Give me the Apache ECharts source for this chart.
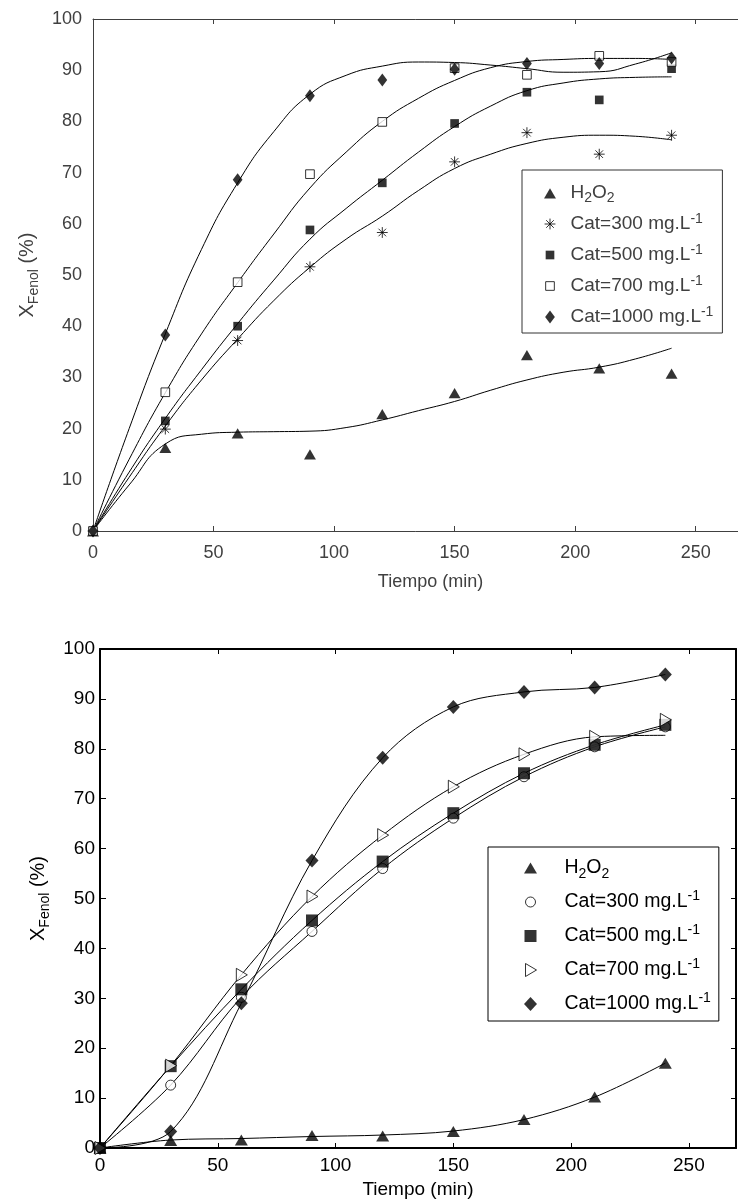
<!DOCTYPE html>
<html><head><meta charset="utf-8">
<script src="https://cdn.jsdelivr.net/npm/echarts@6/dist/echarts.min.js"></script>
<style>html,body{margin:0;padding:0;background:#fff}#c{width:738px;height:1200px}</style>
</head><body><div id="c"></div>
<script>
// ---------- data ----------
const time = [0, 30, 60, 90, 120, 150, 180, 210, 240];
const fitTime = [0, 15, 30, 45, 60, 75, 90, 105, 120, 135, 150, 165, 180, 195, 210, 225, 240];
const xTicks = [0, 50, 100, 150, 200, 250];
const yTicks = [0, 10, 20, 30, 40, 50, 60, 70, 80, 90, 100];
const seriesKeys = ['H2O2', 'Cat300', 'Cat500', 'Cat700', 'Cat1000'];
const legendText = ['H{s|2}O{s|2}', 'Cat=300 mg.L{u|-1}', 'Cat=500 mg.L{u|-1}', 'Cat=700 mg.L{u|-1}', 'Cat=1000 mg.L{u|-1}'];
const xTitle = 'Tiempo (min)';
const yTitle = '{x|X}{s|Fenol}{x| (%)}';

// top chart: measured points
const topH2O2 = [0, 16.3, 19.1, 15.0, 22.9, 27.0, 34.4, 31.8, 30.8];
const top300 = [0, 19.9, 37.2, 51.6, 58.3, 72.1, 77.8, 73.6, 77.3];
const top500 = [0, 21.5, 40.0, 58.8, 68.0, 79.6, 85.7, 84.2, 90.3];
const top700 = [0, 27.1, 48.6, 69.7, 79.9, 90.4, 89.1, 92.8, 91.6];
const top1000 = [0, 38.3, 68.6, 85.0, 88.1, 90.2, 91.3, 91.3, 92.4];
// top chart: fitted curves (read at fitTime)
const topFitH2O2 = [0, 9, 17, 18.9, 19.3, 19.4, 19.5, 20.2, 21.7, 23.5, 25.3, 27.5, 29.5, 31, 32.0, 33.6, 35.7];
const topFit300 = [0, 10.5, 20.5, 29.5, 37.5, 45, 51.5, 57, 61.5, 66.5, 70.8, 73.6, 75.7, 76.9, 77.3, 77.1, 76.4];
const topFit500 = [0, 11.5, 22, 31.5, 40.5, 49, 57, 63, 68.5, 74, 79, 83, 86, 87.5, 88.3, 88.6, 88.7];
const topFit700 = [0, 14, 27, 38.5, 48.5, 58, 67, 74, 80, 84.5, 88, 90.5, 91.7, 92.1, 92.3, 92.3, 92.1];
const topFit1000 = [0, 20, 38.5, 55, 68, 78, 85.3, 89, 90.8, 91.6, 91.5, 91, 90.3, 89.6, 89.7, 91.2, 93.4];

// bottom chart: measured points
const botH2O2 = [0, 1.5, 1.6, 2.5, 2.4, 3.3, 5.7, 10.2, 17.0];
const bot300 = [0, 12.6, 30.2, 43.4, 56.0, 66.1, 74.4, 80.4, 84.4];
const bot500 = [0, 16.4, 31.8, 45.6, 57.4, 67.1, 75.1, 80.8, 84.8];
const bot700 = [0, 16.5, 34.7, 50.4, 62.7, 72.4, 78.9, 82.4, 85.8];
const bot1000 = [0, 3.3, 29.0, 57.6, 78.2, 88.4, 91.4, 92.3, 94.9];
// bottom chart: curves (read at time)
const botFitH2O2 = [0, 1.6, 1.9, 2.3, 2.6, 3.4, 5.7, 10.2, 17.0];
const botFit300 = [0, 12.6, 30.2, 43.4, 56.0, 66.1, 74.4, 80.4, 84.4];
const botFit500 = [0, 16.4, 31.8, 45.6, 57.4, 67.1, 75.1, 80.8, 84.8];
const botFit700 = [0, 16.5, 34.7, 50.4, 62.7, 72.4, 78.9, 82.4, 82.7];
const botFit1000 = [0, 3.3, 29.0, 57.6, 78.2, 88.4, 91.4, 92.3, 94.9];

// ---------- styles ----------
const FONT = "'Liberation Sans', Arial, Helvetica, sans-serif";
const TOPC = '#404040';
const BLACK = '#000';
const S12 = 'path://M0,0M12,12';
const S14 = 'path://M0,0M14,14';
const topSym = [
  {p: S12 + 'M0.5,11L6,1.5L11.5,11Z', st: {color: BLACK}},
  {p: S12 + 'M6,1L6,11M1,6L11,6M2.5,2.5L9.5,9.5M2.5,9.5L9.5,2.5', st: {color: 'rgba(0,0,0,0)', borderColor: BLACK, borderWidth: 1}},
  {p: S12 + 'M2,2L10,2L10,10L2,10Z', st: {color: BLACK}},
  {p: S12 + 'M2,2L10,2L10,10L2,10Z', st: {color: '#fff', borderColor: BLACK, borderWidth: 1}},
  {p: S12 + 'M6,0L10.5,6L6,12L1.5,6Z', st: {color: BLACK}}
];
const botSym = [
  {p: S14 + 'M0.5,12.5L7,1.5L13.5,12.5Z', st: {color: BLACK}},
  {p: S14 + 'M12,7A5,5,0,1,1,2,7A5,5,0,1,1,12,7Z', st: {color: '#fff', borderColor: BLACK, borderWidth: 1}},
  {p: S14 + 'M1,1L13,1L13,13L1,13Z', st: {color: BLACK}},
  {p: S14 + 'M2,0.5L13,7L2,13.5Z', st: {color: '#fff', borderColor: BLACK, borderWidth: 1}},
  {p: S14 + 'M7,0L13.5,7L7,14L0.5,7Z', st: {color: BLACK}}
];

const topPts = [topH2O2, top300, top500, top700, top1000];
const topFits = [topFitH2O2, topFit300, topFit500, topFit700, topFit1000];
const botPts = [botH2O2, bot300, bot500, bot700, bot1000];
const botFits = [botFitH2O2, botFit300, botFit500, botFit700, botFit1000];

const pair = (xs, ys) => xs.map((x, i) => [x, ys[i]]);

const series = [];
[0, 1].forEach(ci => {
  const pts = ci === 0 ? topPts : botPts;
  const fits = ci === 0 ? topFits : botFits;
  const fx = ci === 0 ? fitTime : time;
  const syms = ci === 0 ? topSym : botSym;
  const chartId = ci === 0 ? 'top' : 'bot';
  fits.forEach((f, i) => {
    series.push({
      type: 'line', name: chartId + '-fit-' + i, xAxisIndex: ci * 2, yAxisIndex: ci * 2,
      data: pair(fx, f), smooth: ci === 0 ? 0.5 : 0.35, symbol: 'none', silent: true,
      lineStyle: {color: BLACK, width: 1}, z: 2
    });
  });
  pts.forEach((p, i) => {
    series.push({
      type: 'scatter', name: chartId + '|' + seriesKeys[i], xAxisIndex: ci * 2, yAxisIndex: ci * 2,
      data: pair(time, p), symbol: syms[i].p, symbolSize: ci === 0 ? 13 : 14,
      itemStyle: syms[i].st, z: 3, silent: true
    });
  });
});

function richFor(size, color, gap) {
  return {
    s: {fontSize: Math.round(size * 0.72), lineHeight: Math.round(size * 0.72), verticalAlign: 'bottom', fontFamily: FONT, color: color},
    u: {fontSize: Math.round(size * 0.72), lineHeight: Math.round(size * 0.55), verticalAlign: 'top', fontFamily: FONT, color: color},
    x: {fontSize: size, lineHeight: Math.round(size * 1.35), fontFamily: FONT, color: color},
    g: {width: gap || 0}
  };
}

function legendFor(chartId, syms, opts) {
  return Object.assign({
    orient: 'vertical', selectedMode: false,
    borderWidth: 1,
    data: seriesKeys.map((k, i) => ({
      name: chartId + '|' + k, icon: syms[i].p,
      itemStyle: Object.assign({borderColor: BLACK, borderWidth: 0}, syms[i].st)
    })),
    formatter: function (name) { return '{g| }' + legendText[seriesKeys.indexOf(name.split('|')[1])]; }
  }, opts);
}

function xAxes(grid, max, c, lw, fs, margin, nameGap) {
  return [
    {type: 'value', gridIndex: grid, min: xTicks[0], max: max, interval: xTicks[1] - xTicks[0],
     name: xTitle, nameLocation: 'middle', nameGap: nameGap,
     nameTextStyle: {fontFamily: FONT, fontSize: fs, color: c},
     axisLine: {show: true, onZero: false, lineStyle: {color: c, width: lw}},
     axisTick: {show: true, inside: true, length: 5, lineStyle: {color: c, width: 1}},
     axisLabel: {color: c, fontFamily: FONT, fontSize: fs, margin: margin, showMaxLabel: false},
     splitLine: {show: false}},
    {type: 'value', gridIndex: grid, position: 'top', min: xTicks[0], max: max, interval: xTicks[1] - xTicks[0],
     axisLine: {show: true, onZero: false, lineStyle: {color: c, width: lw}},
     axisTick: {show: true, inside: true, length: 5, lineStyle: {color: c, width: 1}},
     axisLabel: {show: false}, splitLine: {show: false}}
  ];
}
function yAxes(grid, c, lw, fs, nfs, margin, nameGap, ticks) {
  return [
    {type: 'value', gridIndex: grid, min: yTicks[0], max: yTicks[yTicks.length - 1], interval: yTicks[1] - yTicks[0],
     name: yTitle, nameLocation: 'middle', nameGap: nameGap,
     nameTextStyle: {fontFamily: FONT, fontSize: nfs, color: c, rich: richFor(nfs, c)},
     axisLine: {show: true, onZero: false, lineStyle: {color: c, width: lw}},
     axisTick: {show: ticks, inside: true, length: 6, lineStyle: {color: c, width: 1}},
     axisLabel: {color: c, fontFamily: FONT, fontSize: fs, margin: margin},
     splitLine: {show: false}},
    {type: 'value', gridIndex: grid, position: 'right', min: yTicks[0], max: yTicks[yTicks.length - 1], interval: yTicks[1] - yTicks[0],
     axisLine: {show: true, onZero: false, lineStyle: {color: c, width: lw}},
     axisTick: {show: ticks, inside: true, length: 5, lineStyle: {color: c, width: 1}},
     axisLabel: {show: false}, splitLine: {show: false}}
  ];
}

const option = {
  animation: false,
  backgroundColor: '#fff',
  grid: [
    {left: 93, top: 19, width: 675, height: 512, outerBoundsMode: 'none', containLabel: false},
    {left: 100, top: 649, width: 636, height: 499, outerBoundsMode: 'none', containLabel: false}
  ],
  xAxis: [].concat(xAxes(0, 280, TOPC, 1, 18, 13, 42), xAxes(1, 270, BLACK, 2, 19, 8, 32)),
  yAxis: [].concat(yAxes(0, TOPC, 1, 18, 20, 11, 48, false), yAxes(1, BLACK, 2, 19, 20, 5, 46, true)),
  legend: [
    legendFor('top', topSym, {left: 522, top: 170, itemWidth: 13, itemHeight: 13, itemGap: 7,
      padding: [11, 9, 4, 21], borderColor: '#333',
      textStyle: {fontFamily: FONT, fontSize: 19, lineHeight: 24, color: TOPC, rich: richFor(19, TOPC, 9)}}),
    legendFor('bot', botSym, {left: 488, top: 847, itemWidth: 14, itemHeight: 14, itemGap: 8,
      padding: [8, 8, 4, 35], borderColor: BLACK,
      textStyle: {fontFamily: FONT, fontSize: 19.5, lineHeight: 26, color: BLACK, rich: richFor(19.5, BLACK, 22)}})
  ],
  series: series
};
const chart = echarts.init(document.getElementById('c'));
chart.setOption(option);
</script>
</body></html>
